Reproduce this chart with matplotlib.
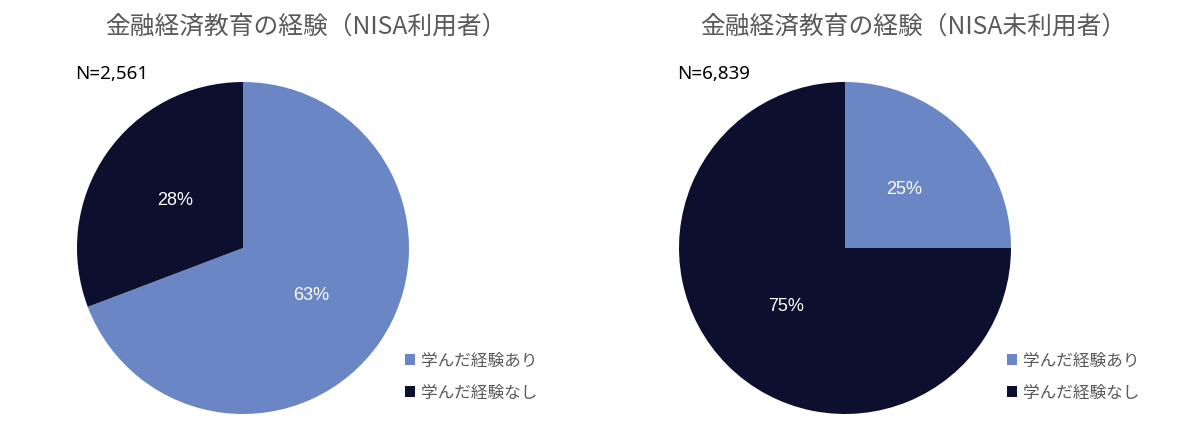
import matplotlib
matplotlib.use('Agg')
import matplotlib.pyplot as plt
import math

plt.rcParams['font.family'] = ['Noto Sans CJK JP', 'DejaVu Sans']

categories = ['学んだ経験あり', '学んだ経験なし']
users_values = [63, 28]
nonusers_values = [25, 75]
titles = ['金融経済教育の経験（NISA利用者）', '金融経済教育の経験（NISA未利用者）']
n_labels = ['N=2,561', 'N=6,839']
colors = ['#6a86c5', '#0c0f2e']
gray = '#595959'

W, H = 1200, 438
fig = plt.figure(figsize=(W / 100, H / 100), dpi=100)


def pie_panel(cx, cy, r, values, title, title_x, n_label, n_x, legend_x):
    ax = fig.add_axes([(cx - r) / W, (H - cy - r) / H, 2 * r / W, 2 * r / H])
    wedges, _ = ax.pie(values, colors=colors, startangle=90, counterclock=False,
                       radius=1, wedgeprops=dict(linewidth=0))
    ax.set_xlim(-1, 1)
    ax.set_ylim(-1, 1)
    ax.set_aspect('equal')
    for w, v in zip(wedges, values):
        mid = math.radians((w.theta1 + w.theta2) / 2)
        ax.text(0.5 * math.cos(mid), 0.5 * math.sin(mid), f'{v}%',
                ha='center', va='center', color='white', fontsize=13,
                family=['Liberation Sans', 'DejaVu Sans'])
    fig.text(title_x / W, 1 - 27 / H, title, ha='center', va='center',
             fontsize=17.8, color=gray)
    fig.text(n_x / W, 1 - 74 / H, n_label, ha='left', va='center',
             fontsize=13.5, color='black', family=['Noto Sans', 'DejaVu Sans'])
    fig.legend(wedges, categories, loc='center left',
               bbox_to_anchor=(legend_x / W, 1 - 377 / H), frameon=False,
               fontsize=12, labelcolor=gray, handlelength=0.6, handleheight=0.6,
               handletextpad=0.35, labelspacing=0.9, borderpad=0)


pie_panel(243, 248, 166, users_values, titles[0], 306, n_labels[0], 75, 397)
pie_panel(845, 248, 166, nonusers_values, titles[1], 913, n_labels[1], 677, 999)

fig.savefig('out.png', dpi=100)
